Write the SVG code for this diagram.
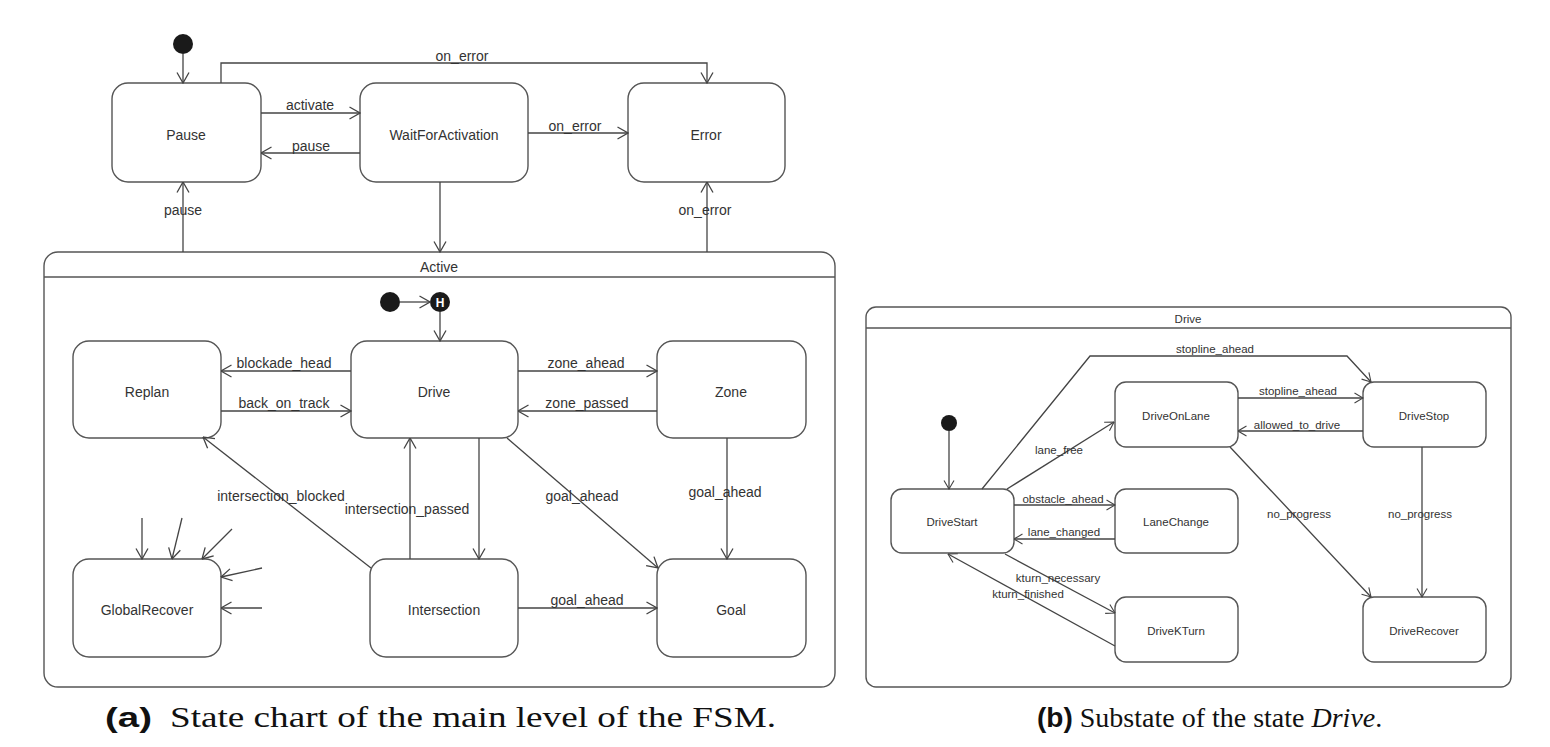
<svg xmlns="http://www.w3.org/2000/svg" width="1550" height="747" viewBox="0 0 1550 747">
<style>
.st{fill:#fff;stroke:#555;stroke-width:1.4}
.fr{fill:none;stroke:#555;stroke-width:1.4}
.e{fill:none;stroke:#444;stroke-width:1.3}
.ea{marker-end:url(#a)}
.eb{marker-end:url(#b)}
.t{font-family:"Liberation Sans",Arial,sans-serif;font-size:14px;fill:#333;text-anchor:middle}
.s{font-family:"Liberation Sans",Arial,sans-serif;font-size:11.5px;fill:#333;text-anchor:middle}
.dot{fill:#1a1a1a}
.cap{font-family:"Liberation Serif","Times New Roman",serif;font-size:29px;fill:#111}
.cap2{font-family:"Liberation Serif","Times New Roman",serif;font-size:28px;fill:#111}
.capb{font-family:"Liberation Sans",Arial,sans-serif;font-weight:bold;font-size:28px;fill:#111}
</style>
<defs>
<marker id="a" viewBox="0 0 12 14" refX="11.5" refY="7" markerWidth="12" markerHeight="14" markerUnits="userSpaceOnUse" orient="auto"><path d="M1,1 L11.5,7 L1,13" fill="none" stroke="#444" stroke-width="1.3"/></marker>
<marker id="b" viewBox="0 0 10 12" refX="9.5" refY="6" markerWidth="10" markerHeight="12" markerUnits="userSpaceOnUse" orient="auto"><path d="M1,1 L9.5,6 L1,11" fill="none" stroke="#444" stroke-width="1.1"/></marker>
</defs>
<rect width="1550" height="747" fill="#fff"/>

<!-- Panel (a) -->
<g id="Active">
<rect class="fr" x="44" y="252" width="791" height="435" rx="14"/>
<line class="fr" x1="44" y1="277" x2="835" y2="277"/>
<text class="t" x="439" y="272">Active</text>
</g>
<g id="init_a"><circle class="dot" cx="183" cy="44" r="10"/></g>
<g id="Pause"><rect class="st" x="112" y="83" width="149" height="99" rx="16"/><text class="t" x="186" y="140">Pause</text></g>
<g id="WaitForActivation"><rect class="st" x="360" y="83" width="168" height="99" rx="16"/><text class="t" x="444" y="140">WaitForActivation</text></g>
<g id="Error"><rect class="st" x="628" y="83" width="157" height="99" rx="16"/><text class="t" x="706" y="140">Error</text></g>
<g id="init_active"><circle class="dot" cx="390" cy="302" r="10"/></g>
<g id="History"><circle class="dot" cx="440" cy="302" r="10"/><text x="440" y="307" font-family="Liberation Sans,Arial,sans-serif" font-size="12" font-weight="bold" fill="#fff" text-anchor="middle">H</text></g>
<g id="Replan"><rect class="st" x="73" y="341" width="148" height="97" rx="16"/><text class="t" x="147" y="397">Replan</text></g>
<g id="Drive"><rect class="st" x="351" y="341" width="167" height="97" rx="16"/><text class="t" x="434" y="397">Drive</text></g>
<g id="Zone"><rect class="st" x="657" y="341" width="149" height="97" rx="16"/><text class="t" x="731" y="397">Zone</text></g>
<g id="GlobalRecover"><rect class="st" x="73" y="559" width="148" height="98" rx="16"/><text class="t" x="147" y="615">GlobalRecover</text></g>
<g id="Intersection"><rect class="st" x="370" y="559" width="148" height="98" rx="16"/><text class="t" x="444" y="615">Intersection</text></g>
<g id="Goal"><rect class="st" x="657" y="559" width="149" height="98" rx="16"/><text class="t" x="731" y="615">Goal</text></g>

<g id="connectors_a">
<path class="e ea" d="M183,54 V83"/>
<path class="e ea" d="M221,83 V63 H707 V83"/>
<path class="e ea" d="M261,113 H360"/>
<path class="e ea" d="M360,153 H261"/>
<path class="e ea" d="M528,133 H628"/>
<path class="e ea" d="M440,182 V252"/>
<path class="e ea" d="M183,252 V182"/>
<path class="e ea" d="M707,252 V182"/>
<path class="e ea" d="M400,302 H430"/>
<path class="e ea" d="M440,312 V341"/>
<path class="e ea" d="M351,371 H221"/>
<path class="e ea" d="M221,411 H351"/>
<path class="e ea" d="M518,371 H657"/>
<path class="e ea" d="M657,411 H518"/>
<path class="e ea" d="M371,568 L203,437"/>
<path class="e ea" d="M410,559 V438"/>
<path class="e ea" d="M479,438 V559"/>
<path class="e ea" d="M507,438 L658,568"/>
<path class="e ea" d="M727,438 V559"/>
<path class="e ea" d="M518,608 H657"/>
<path class="e ea" d="M142,518 V559"/>
<path class="e ea" d="M182,518 L172,559"/>
<path class="e ea" d="M232,529 L202,559"/>
<path class="e ea" d="M262,568 L221,577"/>
<path class="e ea" d="M262,608 H221"/>
<text class="t" x="462" y="61">on_error</text>
<text class="t" x="310" y="110">activate</text>
<text class="t" x="311" y="151">pause</text>
<text class="t" x="575" y="131">on_error</text>
<text class="t" x="183" y="215">pause</text>
<text class="t" x="705" y="215">on_error</text>
<text class="t" x="284" y="368">blockade_head</text>
<text class="t" x="284" y="408">back_on_track</text>
<text class="t" x="586" y="368">zone_ahead</text>
<text class="t" x="587" y="408">zone_passed</text>
<text class="t" x="281" y="501">intersection_blocked</text>
<text class="t" x="407" y="514">intersection_passed</text>
<text class="t" x="582" y="501">goal_ahead</text>
<text class="t" x="725" y="497">goal_ahead</text>
<text class="t" x="587" y="605">goal_ahead</text>
</g>

<!-- Panel (b) -->
<g id="DriveFrame">
<rect class="fr" x="866" y="307" width="645" height="380" rx="10"/>
<line class="fr" x1="866" y1="328" x2="1511" y2="328"/>
<text class="s" x="1188" y="323">Drive</text>
</g>
<g id="init_b"><circle class="dot" cx="949" cy="423" r="8"/></g>
<g id="DriveStart"><rect class="st" x="891" y="489" width="123" height="64" rx="11"/><text class="s" x="952" y="526">DriveStart</text></g>
<g id="DriveOnLane"><rect class="st" x="1115" y="382" width="123" height="65" rx="11"/><text class="s" x="1176" y="420">DriveOnLane</text></g>
<g id="DriveStop"><rect class="st" x="1363" y="382" width="123" height="65" rx="11"/><text class="s" x="1424" y="420">DriveStop</text></g>
<g id="LaneChange"><rect class="st" x="1115" y="489" width="123" height="64" rx="11"/><text class="s" x="1176" y="526">LaneChange</text></g>
<g id="DriveKTurn"><rect class="st" x="1115" y="597" width="123" height="65" rx="11"/><text class="s" x="1176" y="635">DriveKTurn</text></g>
<g id="DriveRecover"><rect class="st" x="1363" y="597" width="123" height="65" rx="11"/><text class="s" x="1424" y="635">DriveRecover</text></g>

<g id="connectors_b">
<path class="e eb" d="M949,431 V489"/>
<path class="e eb" d="M982,489 L1090,356 H1347 L1371,382"/>
<path class="e eb" d="M1007,489 L1114,422"/>
<path class="e eb" d="M1238,398 H1363"/>
<path class="e eb" d="M1363,431 H1238"/>
<path class="e eb" d="M1230,447 L1371,597"/>
<path class="e eb" d="M1422,447 V597"/>
<path class="e eb" d="M1014,505 H1115"/>
<path class="e eb" d="M1115,539 H1014"/>
<path class="e eb" d="M1005,554 L1115,613"/>
<path class="e eb" d="M1115,646 L948,554"/>
<text class="s" x="1215" y="353">stopline_ahead</text>
<text class="s" x="1298" y="395">stopline_ahead</text>
<text class="s" x="1297" y="429">allowed_to_drive</text>
<text class="s" x="1059" y="454">lane_free</text>
<text class="s" x="1063" y="503">obstacle_ahead</text>
<text class="s" x="1064" y="536">lane_changed</text>
<text class="s" x="1058" y="582">kturn_necessary</text>
<text class="s" x="1028" y="598">kturn_finished</text>
<text class="s" x="1299" y="518">no_progress</text>
<text class="s" x="1420" y="518">no_progress</text>
</g>

<!-- Captions -->
<g id="captions">
<text y="727"><tspan class="capb" x="105" textLength="47" lengthAdjust="spacingAndGlyphs">(a)</tspan><tspan class="cap" x="170" textLength="606" lengthAdjust="spacingAndGlyphs">State chart of the main level of the FSM.</tspan></text>
<text x="1037" y="727"><tspan class="capb">(b)</tspan><tspan class="cap2"> Substate of the state </tspan><tspan class="cap2" font-style="italic">Drive</tspan><tspan class="cap2">.</tspan></text>
</g>
</svg>
